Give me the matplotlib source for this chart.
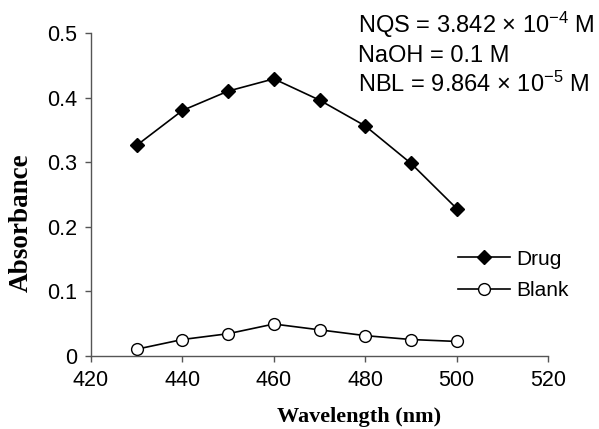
import matplotlib
matplotlib.use("Agg")
import matplotlib.pyplot as plt
from matplotlib.ticker import FuncFormatter

wavelength = [430, 440, 450, 460, 470, 480, 490, 500]
drug = [0.326, 0.380, 0.410, 0.429, 0.396, 0.356, 0.298, 0.228]
blank = [0.010, 0.025, 0.034, 0.049, 0.040, 0.031, 0.025, 0.022]
xticks = [420, 440, 460, 480, 500, 520]
yticks = [0, 0.1, 0.2, 0.3, 0.4, 0.5]

sans = ['Liberation Sans', 'DejaVu Sans']
serif = ['Liberation Serif', 'DejaVu Serif']
plt.rcParams['mathtext.fontset'] = 'custom'
plt.rcParams['mathtext.rm'] = 'Liberation Sans'
plt.rcParams['mathtext.it'] = 'Liberation Sans:italic'
plt.rcParams['mathtext.bf'] = 'Liberation Sans:bold'

fig = plt.figure(figsize=(5.99, 4.29), dpi=100)
ax = fig.add_axes([0.152, 0.171, 0.763, 0.752])

ax.plot(wavelength, drug, color='black', lw=1.2, marker='D', markersize=7.5,
        markerfacecolor='black', markeredgecolor='black', label='Drug')
ax.plot(wavelength, blank, color='black', lw=1.2, marker='o', markersize=8.5,
        markerfacecolor='white', markeredgecolor='black', markeredgewidth=1.0,
        label='Blank')

ax.set_xlim(420, 520)
ax.set_ylim(0, 0.5)
ax.set_xticks(xticks)
ax.set_yticks(yticks)
ax.yaxis.set_major_formatter(FuncFormatter(lambda v, p: '0' if abs(v) < 1e-9 else f'{v:.1f}'))
for s in ['top', 'right']:
    ax.spines[s].set_visible(False)
for s in ['left', 'bottom']:
    ax.spines[s].set_color('#555555')
    ax.spines[s].set_linewidth(1.0)
ax.tick_params(direction='out', length=4, width=1.0, color='#555555', pad=6,
               labelsize=15.5)
for lab in ax.get_xticklabels() + ax.get_yticklabels():
    lab.set_family(sans)

fig.text(0.599, 0.004, 'Wavelength (nm)', family=serif, fontweight='bold',
         fontsize=16, ha='center', va='bottom')
fig.text(0.035, 0.481, 'Absorbance', family=serif, fontweight='bold',
         fontsize=19.5, ha='center', va='center', rotation=90)

leg = ax.legend(loc='center left', bbox_to_anchor=(0.785, 0.25), frameon=False,
                prop={'family': sans, 'size': 15}, handlelength=2.5,
                handletextpad=0.3, labelspacing=0.6, borderaxespad=0)

fs_note = 17
fig.text(0.598, 0.942, r'NQS = 3.842 × 10$^{\mathregular{-4}}$ M', family=sans, fontsize=fs_note, va='center')
fig.text(0.598, 0.870, 'NaOH = 0.1 M', family=sans, fontsize=fs_note, va='center')
fig.text(0.598, 0.804, r'NBL = 9.864 × 10$^{\mathregular{-5}}$ M', family=sans, fontsize=fs_note, va='center')

fig.savefig('out.png', dpi=100)
